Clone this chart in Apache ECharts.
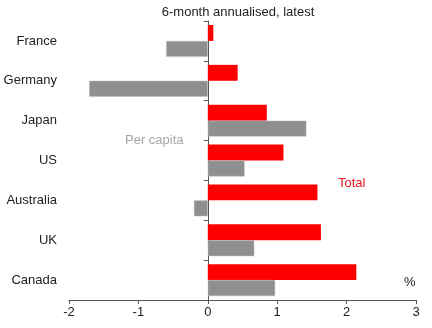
<!DOCTYPE html>
<html><head><meta charset="utf-8">
<script src="https://cdn.jsdelivr.net/npm/echarts@6/dist/echarts.min.js"></script>
<style>html,body{margin:0;padding:0;background:#fff}#c{width:432px;height:328px}</style>
</head><body><div id="c"></div>
<script>
const categories = ["France","Germany","Japan","US","Australia","UK","Canada"];
const totalValues = [0.08, 0.43, 0.85, 1.09, 1.58, 1.63, 2.14];
const perCapitaValues = [-0.6, -1.71, 1.42, 0.53, -0.2, 0.67, 0.97];
const xTicks = [-2, -1, 0, 1, 2, 3];

const chart = echarts.init(document.getElementById('c'), null, {renderer:'canvas'});
const font = 'Liberation Sans, Arial, sans-serif';
chart.setOption({
  animation: false,
  title: {text: '6-month annualised, latest', left: 233, top: 1, textAlign: 'center',
    textStyle: {fontFamily: font, fontSize: 13, fontWeight: 'normal', color: '#222'}},
  grid: {left: 69, right: 16, top: 21, bottom: 28},
  xAxis: {type: 'value', min: xTicks[0], max: xTicks[xTicks.length-1], interval: 1,
    axisLine: {show: true, onZero: false, lineStyle: {color: '#555', width: 1}},
    axisTick: {show: true, length: 4, lineStyle: {color: '#555'}},
    axisLabel: {fontFamily: font, fontSize: 13, color: '#222', margin: 6},
    splitLine: {show: false}},
  yAxis: [
    {type: 'category', data: categories, inverse: true, position: 'left',
      axisLine: {show: false, onZero: false}, axisTick: {show: false},
      axisLabel: {fontFamily: font, fontSize: 13, color: '#222', margin: 12}},
    {type: 'category', data: categories, inverse: true, position: 'left',
      axisLine: {show: true, onZero: true, lineStyle: {color: '#555', width: 1}},
      axisTick: {show: true, length: 4, lineStyle: {color: '#555'}},
      axisLabel: {show: false}}
  ],
  series: [
    {name: 'Total', type: 'bar', data: totalValues, yAxisIndex: 0,
      barGap: '0%', barCategoryGap: '20%',
      itemStyle: {color: '#ff0000'}},
    {name: 'Per capita', type: 'bar', data: perCapitaValues, yAxisIndex: 0,
      barGap: '0%', barCategoryGap: '20%',
      itemStyle: {color: '#8f8f8f', borderColor: '#bdbdbd', borderWidth: 0.5}}
  ],
  graphic: [
    {type: 'text', left: 125, top: 134, style: {text: 'Per capita', fontFamily: font, fontSize: 13, fill: '#a6a6a6'}},
    {type: 'text', left: 338, top: 177, style: {text: 'Total', fontFamily: font, fontSize: 13, fill: '#e8161d'}},
    {type: 'text', left: 404, top: 276, style: {text: '%', fontFamily: font, fontSize: 13, fill: '#222'}}
  ]
});
</script></body></html>
